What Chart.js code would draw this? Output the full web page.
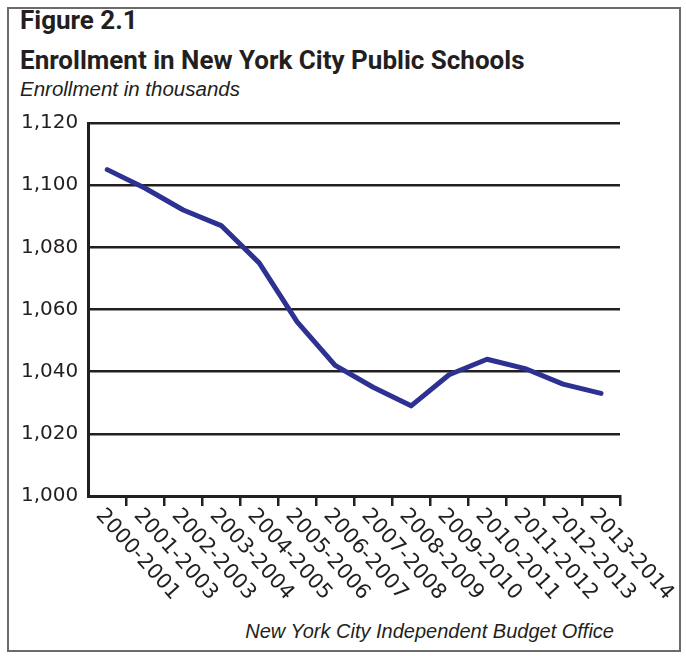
<!DOCTYPE html>
<html>
<head>
<meta charset="utf-8">
<title>Enrollment in New York City Public Schools</title>
<script src="https://cdn.jsdelivr.net/npm/chart.js@4.4.1/dist/chart.umd.min.js"></script>
<style>
    html, body { margin: 0; padding: 0; background: #ffffff; }
    body { width: 686px; height: 656px; position: relative; overflow: hidden; }
    .frame {
        position: absolute; left: 7px; top: 7px;
        width: 670px; height: 641px;
        border: 2px solid #6b6b6b;
    }
    .txt { position: absolute; color: #231f20; white-space: nowrap; }
    .fig { left: 20px; top: 5px; font: bold 26px Roboto, "Liberation Sans", sans-serif; }
    .head { left: 20px; top: 45px; font: bold 26px Roboto, "Liberation Sans", sans-serif; }
    .sub { left: 20px; top: 77px; font: italic 20.5px "Liberation Sans", sans-serif; }
    .source { right: 72px; top: 620px; font: italic 20px "Liberation Sans", sans-serif; }
    #chart { position: absolute; left: 0; top: 0; }
</style>
</head>
<body>
<div class="frame"></div>
<div class="txt fig">Figure 2.1</div>
<div class="txt head">Enrollment in New York City Public Schools</div>
<div class="txt sub">Enrollment in thousands</div>
<div class="txt source">New York City Independent Budget Office</div>
<canvas id="chart" width="686" height="656"></canvas>
<script>
// School years (the second label is printed this way in the source figure)
const seasons = [
    '2000-2001', '2001-2003', '2002-2003', '2003-2004', '2004-2005',
    '2005-2006', '2006-2007', '2007-2008', '2008-2009', '2009-2010',
    '2010-2011', '2011-2012', '2012-2013', '2013-2014'
];

// Enrollment, thousands
const enrollment = [1105, 1099, 1092, 1087, 1075, 1056, 1042, 1035, 1029, 1039, 1044, 1041, 1036, 1033];

// Y axis ticks
const yMin = 1000;
const yMax = 1120;
const yStep = 20;

const ink = '#231f20';

// Draw the x labels slanted down to the right, starting at each category
const slantedLabels = {
    id: 'slantedLabels',
    afterDraw(chart) {
        const xScale = chart.scales.x;
        const ctx = chart.ctx;
        ctx.save();
        ctx.font = '21px "DejaVu Sans"';
        ctx.fillStyle = ink;
        ctx.textAlign = 'left';
        ctx.textBaseline = 'middle';
        chart.data.labels.forEach((label, i) => {
            const x = xScale.getPixelForTick(i);
            ctx.save();
            ctx.translate(x - 8, xScale.bottom + 6);
            ctx.rotate(48 * Math.PI / 180);
            ctx.fillText(label, 0, 0);
            ctx.restore();
        });
        ctx.restore();
    }
};

new Chart(document.getElementById('chart'), {
    type: 'line',
    data: {
        labels: seasons,
        datasets: [{
            label: 'Enrollment',
            data: enrollment,
            borderColor: '#2d3192',
            borderWidth: 5,
            borderCapStyle: 'round',
            borderJoinStyle: 'round',
            pointRadius: 0,
            tension: 0,
            fill: false
        }]
    },
    options: {
        responsive: false,
        animation: false,
        layout: {
            padding: { left: 11, right: 66, top: 123, bottom: 150 }
        },
        plugins: {
            legend: { display: false },
            tooltip: { enabled: false }
        },
        scales: {
            x: {
                offset: true,
                grid: {
                    offset: true,
                    drawOnChartArea: false,
                    drawTicks: true,
                    tickLength: 10,
                    lineWidth: 2.5,
                    color: (c) => c.index === 0 ? 'rgba(0,0,0,0)' : ink
                },
                border: { display: true, color: ink, width: 3 },
                ticks: { display: false }
            },
            y: {
                min: yMin,
                max: yMax,
                grid: {
                    color: ink,
                    lineWidth: 2.5,
                    drawTicks: false
                },
                border: { display: true, color: ink, width: 3 },
                ticks: {
                    stepSize: yStep,
                    padding: 10,
                    color: ink,
                    font: { family: 'DejaVu Sans', size: 20 }
                }
            }
        }
    },
    plugins: [slantedLabels]
});
</script>
</body>
</html>
